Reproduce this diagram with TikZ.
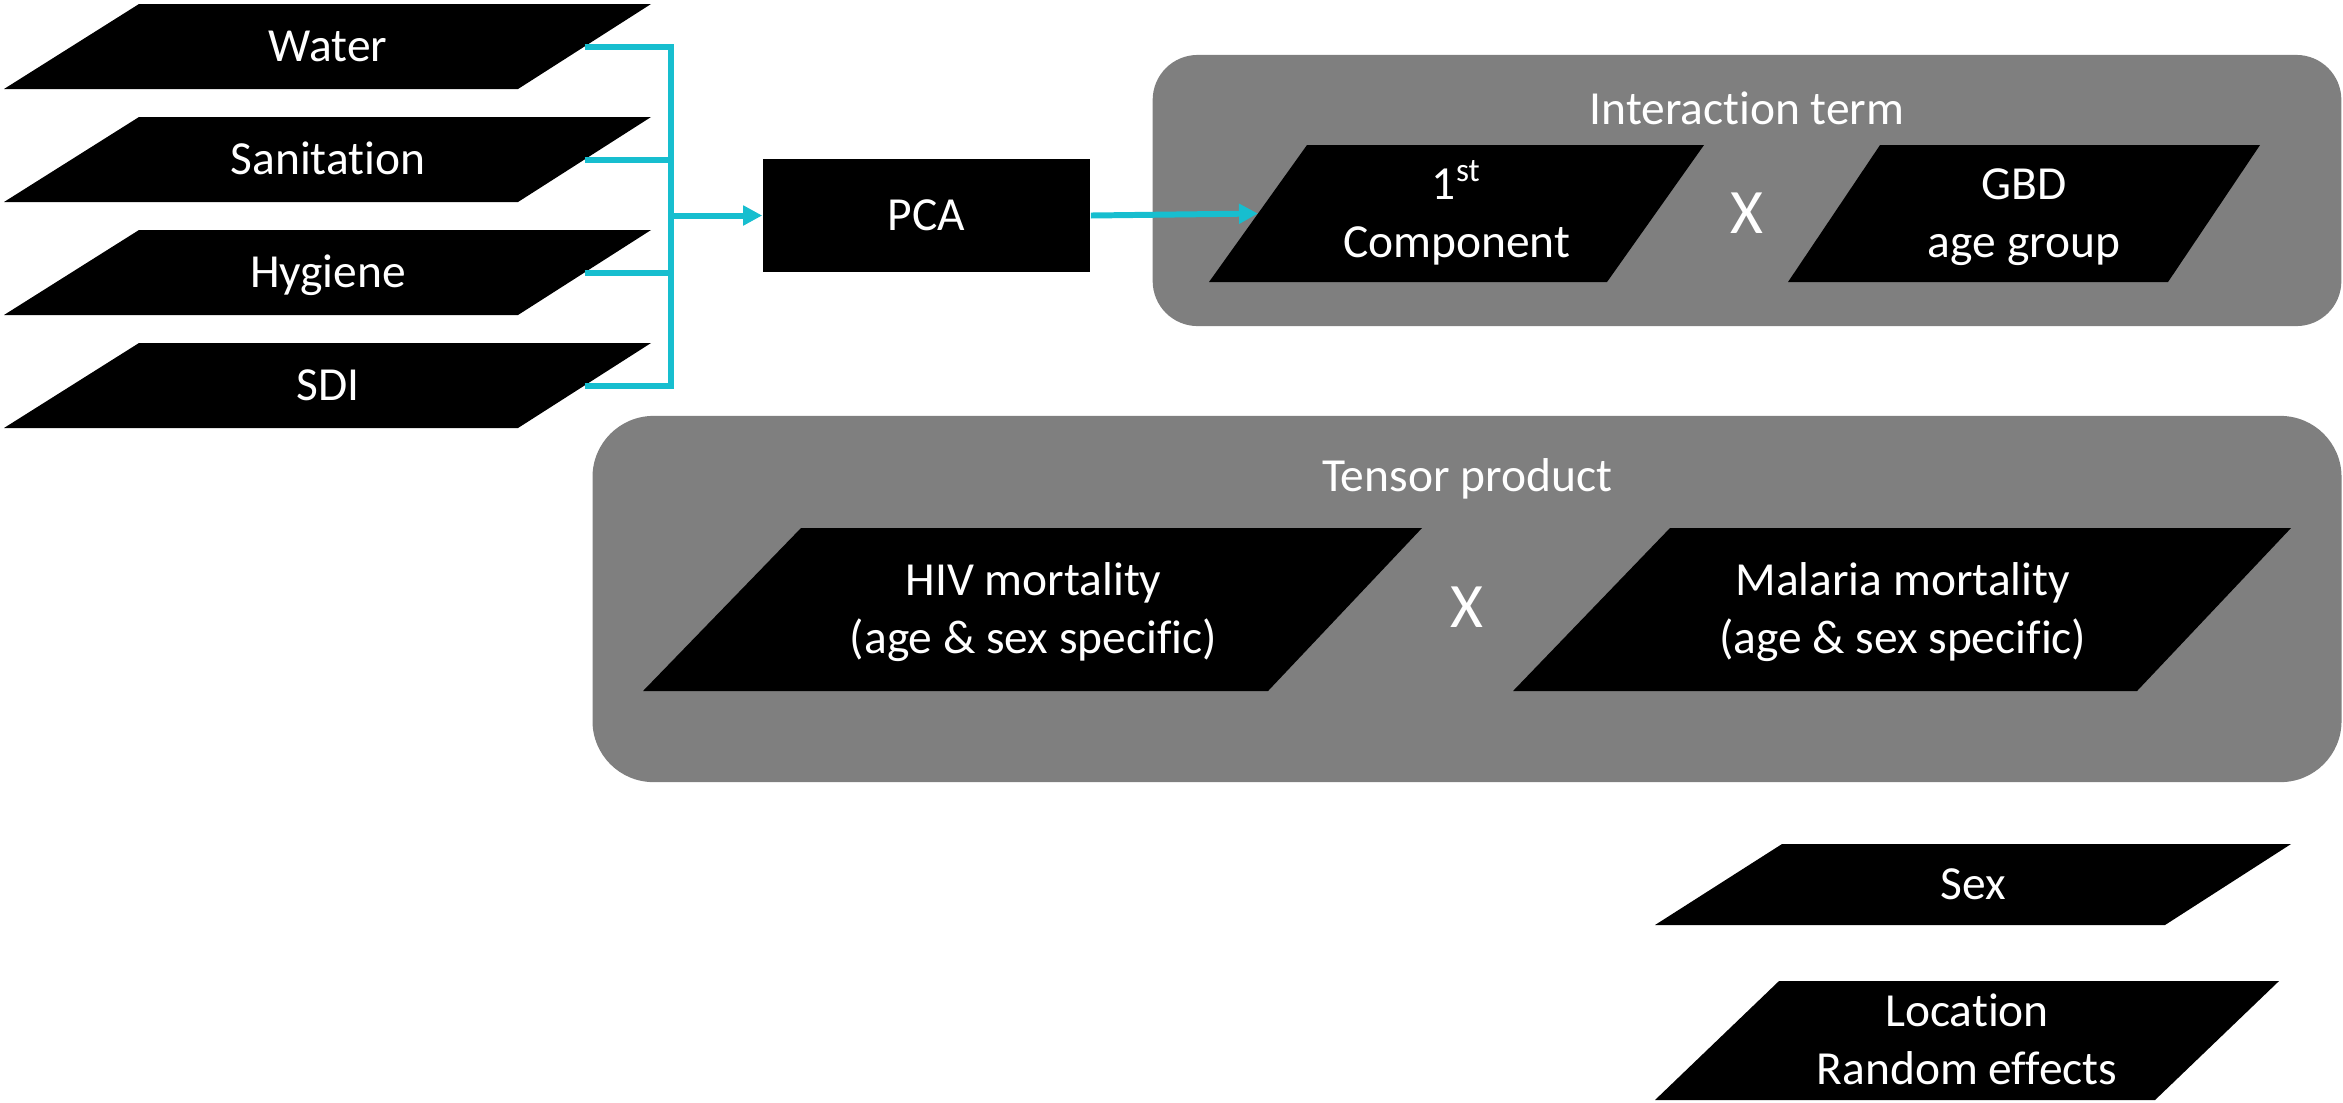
\documentclass[tikz,border=0pt]{standalone}
\usepackage{fontspec}
\setmainfont{Carlito}[Ligatures={NoCommon}]
\usetikzlibrary{arrows.meta}
\definecolor{wcyan}{RGB}{23,190,207}
\definecolor{grpgray}{RGB}{127,127,127}
% name, TLx, TRx, BLx, BRx, top y, bottom y, text
\newcommand{\mypgram}[8]{%
  \fill[black] (#2,#6) -- (#3,#6) -- (#5,#7) -- (#4,#7) -- cycle;
  \node[lbl] (#1) at ({(#2+#3+#4+#5)/4},{(#6+#7)/2+3.5}) {#8};
  \coordinate (#1-e) at ({(#3+#5)/2},{(#6+#7)/2});
  \coordinate (#1-w) at ({(#2+#4)/2},{(#6+#7)/2});
}
\begin{document}
\begin{tikzpicture}[x=0.01cm,y=-0.01cm,
  lbl/.style={text=white, align=center, font=\fontsize{13.5}{16.3}\selectfont, inner sep=0pt},
  caplbl/.style={text=white, font=\fontsize{13.5}{16.3}\selectfont, inner sep=0pt, text height=8.53pt, text depth=0pt},
  xlbl/.style={text=white, font=\fontsize{18}{20}\selectfont, inner sep=0pt, text height=11.4pt, text depth=0pt},
  grp/.style={fill=grpgray, inner sep=0pt},
  conn/.style={draw=wcyan, line width=1.7pt},
  arr/.style={conn, -{Triangle[length=5.4pt,width=5.4pt]}}]
\useasboundingbox (0,0) rectangle (2343,1102);

% group containers
\node[grp, minimum width=11.88cm, minimum height=2.71cm, rounded corners=0.45cm] (inter) at (1747,190.5) {};
\node[grp, minimum width=17.48cm, minimum height=3.66cm, rounded corners=0.61cm] (tensor) at (1467,599) {};
\node[lbl] (intertitle) at (1747,113.5) {\strut Interaction term};
\node[lbl] (tensortitle) at (1467,480.5) {\strut Tensor product};

% inputs
\mypgram{water}{139}{651}{4}{518}{4}{89}{\strut Water}
\mypgram{sanit}{139}{651}{4}{518}{117}{202}{\strut Sanitation}
\mypgram{hyg}{139}{651}{4}{518}{230}{315}{\strut Hygiene}
\mypgram{sdi}{139}{651}{4}{518}{343}{428}{\strut SDI}

% PCA
\node[fill=black, minimum width=3.27cm, minimum height=1.13cm, caplbl] (pca) at (926.5,215.5) {PCA};

% interaction term
\mypgram{comp}{1307}{1704}{1209}{1607}{145}{282}{\strut 1\textsuperscript{st}\\\strut Component}
\mypgram{gbd}{1880}{2260}{1788}{2168}{145}{282}{\strut GBD\\\strut age group}
\node[xlbl] (x1) at (1747,213) {X};

% tensor product
\mypgram{hiv}{801}{1422}{643}{1268}{528}{691}{\strut HIV mortality\\\strut (age \& sex specific)}
\mypgram{mal}{1670}{2291}{1513}{2137}{528}{691}{\strut Malaria mortality\\\strut (age \& sex specific)}
\node[xlbl] (x2) at (1467,607.5) {X};

% other terms
\mypgram{sex}{1782}{2291}{1655}{2165}{844}{925}{\strut Sex}
\mypgram{loc}{1779}{2279}{1655}{2155}{981}{1100}{\strut Location\\\strut Random effects}

% connectors
\coordinate (bus) at (671,215.5);
\draw[conn] (water-e) -| (bus);
\draw[conn] (sdi-e) -| (bus);
\draw[conn] (sanit-e) -- (sanit-e -| bus);
\draw[conn] (hyg-e) -- (hyg-e -| bus);
\draw[arr] (bus) -- (pca.west);
\draw[arr] (pca.east) -- (comp-w);
\end{tikzpicture}
\end{document}
